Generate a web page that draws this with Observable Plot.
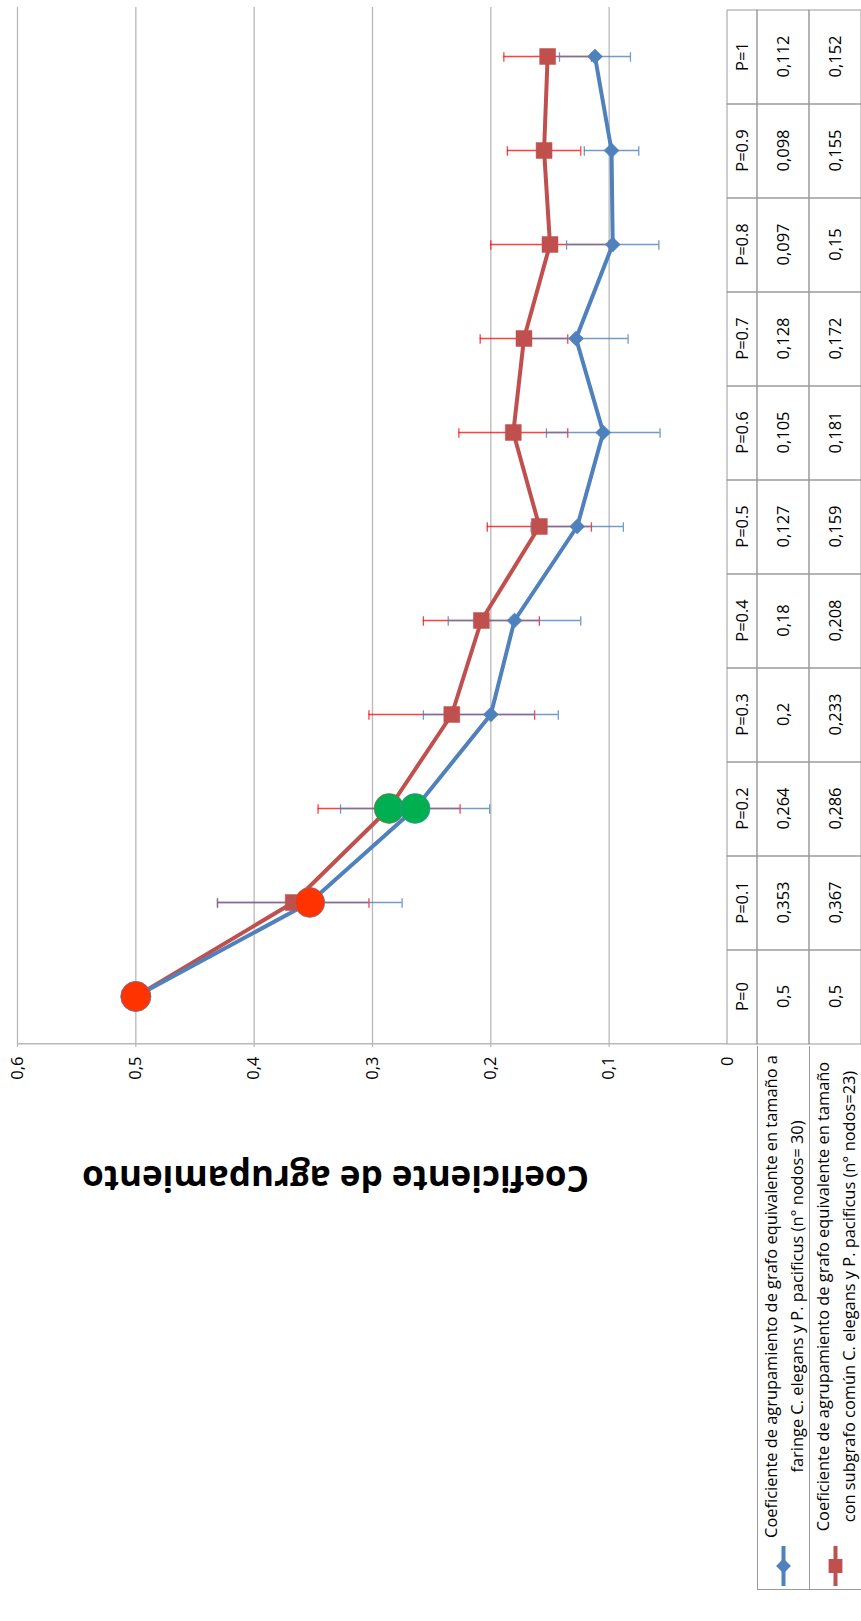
<!DOCTYPE html>
<html>
<head>
<meta charset="utf-8">
<script src="https://cdn.jsdelivr.net/npm/d3@7"></script>
<script src="https://cdn.jsdelivr.net/npm/@observablehq/plot@0.6"></script>
<style>
html, body { margin: 0; padding: 0; background: #fff; width: 861px; height: 1621px; overflow: hidden; }
#page { position: absolute; left: 0; top: 0; width: 1621px; height: 861px; transform-origin: 0 0;
  transform: translate(0px, 1621px) rotate(-90deg); background: #fff; font-family: "Open Sans", sans-serif; }
.part { position: absolute; left: 0; }
.leg { position: absolute; left: 31px; width: 544px; height: 53px; box-sizing: border-box;
  border: 1px solid #9b9b9b; border-right: none; display: flex; align-items: center; }
.leg svg { flex: none; }
.legtext { flex: 1; text-align: center; font-size: 16.4px; line-height: 26px; color: #000; padding-right: 4px; white-space: nowrap; }
</style>
</head>
<body>
<div id="page"></div>
<script>
// ---- data ----
const categories = ["P=0", "P=0.1", "P=0.2", "P=0.3", "P=0.4", "P=0.5", "P=0.6", "P=0.7", "P=0.8", "P=0.9", "P=1"];
const blueValues = [0.5, 0.353, 0.264, 0.2, 0.18, 0.127, 0.105, 0.128, 0.097, 0.098, 0.112];
const redValues  = [0.5, 0.367, 0.286, 0.233, 0.208, 0.159, 0.181, 0.172, 0.15, 0.155, 0.152];
const blueErrors = [0, 0.078, 0.063, 0.057, 0.056, 0.039, 0.048, 0.044, 0.039, 0.023, 0.030];
const redErrors  = [0, 0.064, 0.060, 0.070, 0.049, 0.044, 0.046, 0.037, 0.050, 0.031, 0.037];
const orangeBlue = ["P=0", "P=0.1"];
const orangeRed  = ["P=0"];
const greenBlue  = ["P=0.2"];
const greenRed   = ["P=0.2"];
const yTicks = [0, 0.1, 0.2, 0.3, 0.4, 0.5, 0.6];
const yTitle = "Coeficiente de agrupamiento";
const blueLegend = ["Coeficiente de agrupamiento de grafo equivalente en tamaño a", "faringe C. elegans y P. pacificus (n° nodos= 30)"];
const redLegend  = ["Coeficiente de agrupamiento de grafo equivalente en tamaño", "con subgrafo común C. elegans y P. pacificus (n° nodos=23)"];

// ---- styles ----
const BLUE = "#4f81bd", RED = "#c0504d", ORANGE = "#ff3300", GREEN = "#00b050";
const GRID = "#b8b8b8", BORDER = "#9b9b9b";
const W = 1621, ML = 574, MR = 7;
const bw = (W - ML - MR) / categories.length;
const capInset = (bw - 10) / 2;
const fmt = v => v === 0 ? "0" : String(+(+v).toFixed(3)).replace(".", ",");

const blueRows = categories.map((c, i) => ({cat: c, series: "blue", value: blueValues[i], err: blueErrors[i]}));
const redRows  = categories.map((c, i) => ({cat: c, series: "red", value: redValues[i], err: redErrors[i]}));
const withErr = rows => rows.filter(d => d.err > 0);
const isSpecial = d => (d.series === "blue" ? orangeBlue.concat(greenBlue) : orangeRed.concat(greenRed)).includes(d.cat);
const circleRows = [
  ...redRows.filter(d => orangeRed.includes(d.cat)).map(d => ({...d, color: ORANGE, edge: RED})),
  ...blueRows.filter(d => orangeBlue.includes(d.cat)).map(d => ({...d, color: ORANGE, edge: BLUE})),
  ...redRows.filter(d => greenRed.includes(d.cat)).map(d => ({...d, color: GREEN, edge: RED})),
  ...blueRows.filter(d => greenBlue.includes(d.cat)).map(d => ({...d, color: GREEN, edge: BLUE}))
];

const errMarks = (rows, color, op) => [
  Plot.ruleX(withErr(rows), {x: "cat", y1: d => d.value - d.err, y2: d => d.value + d.err, stroke: color, strokeOpacity: op, strokeWidth: 1.3}),
  Plot.tickY(withErr(rows), {x: "cat", y: d => d.value - d.err, stroke: color, strokeOpacity: op, strokeWidth: 1.3, insetLeft: capInset, insetRight: capInset}),
  Plot.tickY(withErr(rows), {x: "cat", y: d => d.value + d.err, stroke: color, strokeOpacity: op, strokeWidth: 1.3, insetLeft: capInset, insetRight: capInset})
];

const page = document.getElementById("page");

// ---- main chart ----
const main = Plot.plot({
  width: W, height: 727,
  marginLeft: ML, marginRight: MR, marginTop: 17, marginBottom: 0,
  style: {fontFamily: "Open Sans, sans-serif", fontSize: "16px", color: "#000", background: "transparent", overflow: "visible"},
  x: {type: "band", domain: categories, padding: 0, axis: null},
  y: {domain: [0, 0.6], axis: null},
  marks: [
    Plot.ruleY(yTicks.filter(d => d > 0), {stroke: GRID, strokeWidth: 1.3}),
    Plot.ruleX([categories[0]], {dx: -bw / 2, stroke: GRID, strokeWidth: 1.3}),
    Plot.axisY(yTicks, {tickSize: 0, tickPadding: 10, tickFormat: fmt, label: null, fontSize: 16.5, fill: "#000"}),
    Plot.text([yTitle], {frameAnchor: "left", textAnchor: "middle", lineAnchor: "middle", dx: -131, dy: -37, rotate: -90,
      fontSize: 35, fontWeight: "bold", fill: "#000", text: d => d}),
    ...errMarks(redRows, "#ff0000", 0.75),
    ...errMarks(blueRows, BLUE, 0.8),
    Plot.line(redRows, {x: "cat", y: "value", stroke: RED, strokeWidth: 4}),
    Plot.line(blueRows, {x: "cat", y: "value", stroke: BLUE, strokeWidth: 4}),
    Plot.dot(redRows.filter(d => !isSpecial(d)), {x: "cat", y: "value", symbol: "square", r: 9, fill: RED, stroke: RED, strokeWidth: 0.5}),
    Plot.dot(blueRows.filter(d => !isSpecial(d)), {x: "cat", y: "value", symbol: "diamond2", r: 6.8, fill: BLUE, stroke: BLUE, strokeWidth: 0.5}),
    Plot.dot(circleRows, {x: "cat", y: "value", r: 15, fill: "color", stroke: "edge", strokeWidth: 1, strokeOpacity: 0.6})
  ]
});
main.classList.add("part");
main.style.top = "0px";
page.appendChild(main);

// ---- data table header ----
const header = Plot.plot({
  width: W, height: 30,
  marginLeft: ML, marginRight: MR, marginTop: 0, marginBottom: 0,
  style: {fontFamily: "Open Sans, sans-serif", fontSize: "16.5px", color: "#000", background: "transparent", overflow: "visible"},
  x: {type: "band", domain: categories, padding: 0, axis: null},
  marks: [
    Plot.cell(categories, {x: d => d, fill: "none", stroke: BORDER, strokeWidth: 1}),
    Plot.text(categories, {x: d => d, text: d => d, fontSize: 16.5, fill: "#000"})
  ]
});
header.classList.add("part");
header.style.top = "727px";
page.appendChild(header);

// ---- data table rows ----
const tableRows = Plot.plot({
  width: W, height: 104,
  marginLeft: ML, marginRight: MR, marginTop: 0, marginBottom: 0,
  style: {fontFamily: "Open Sans, sans-serif", fontSize: "16.5px", color: "#000", background: "transparent", overflow: "visible"},
  x: {type: "band", domain: categories, padding: 0, axis: null},
  y: {type: "band", domain: ["blue", "red"], padding: 0, axis: null},
  marks: [
    Plot.cell([...blueRows, ...redRows], {x: "cat", y: "series", fill: "none", stroke: BORDER, strokeWidth: 1}),
    Plot.text([...blueRows, ...redRows], {x: "cat", y: "series", text: d => fmt(d.value), fontSize: 16.5, fill: "#000"})
  ]
});
tableRows.classList.add("part");
tableRows.style.top = "757px";
page.appendChild(tableRows);

// ---- legend cells of the data table ----
function legendCell(top, lines, color, shape) {
  const div = document.createElement("div");
  div.className = "leg";
  div.style.top = top + "px";
  const svg = d3.create("svg").attr("width", 46).attr("height", 51);
  svg.append("line").attr("x1", 3).attr("x2", 43).attr("y1", 25.5).attr("y2", 25.5)
    .attr("stroke", color).attr("stroke-width", 4);
  svg.append("path").attr("transform", "translate(23,25.5)")
    .attr("d", d3.symbol(shape === "square" ? d3.symbolSquare : d3.symbolDiamond2, shape === "square" ? 190 : 140)())
    .attr("fill", color);
  div.appendChild(svg.node());
  const t = document.createElement("div");
  t.className = "legtext";
  t.innerHTML = lines.map(l => l.replace(/&/g, "&amp;")).join("<br>");
  div.appendChild(t);
  page.appendChild(div);
}
legendCell(757, blueLegend, BLUE, "diamond");
legendCell(809, redLegend, RED, "square");
</script>
</body>
</html>
